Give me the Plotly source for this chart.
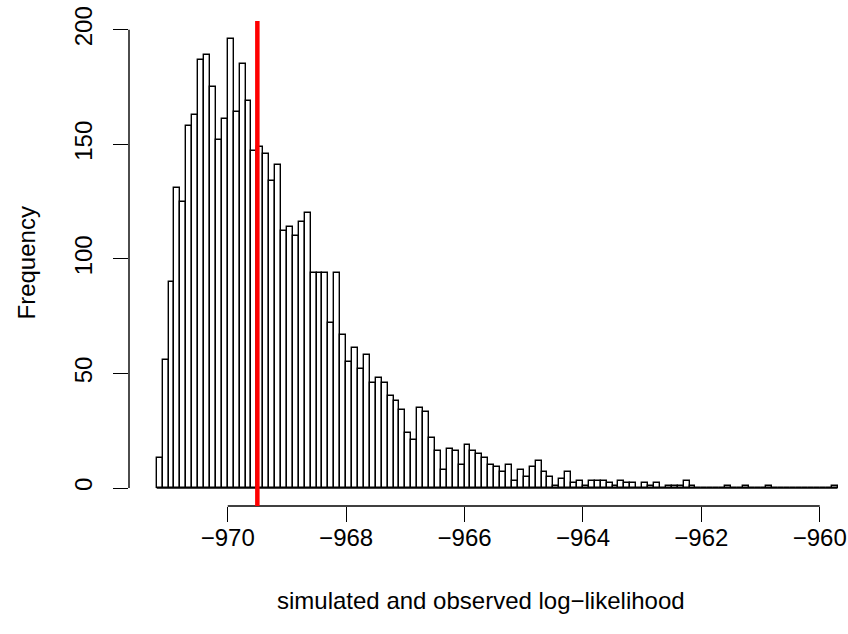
import plotly.graph_objects as go

# ---- data ----
bin_start = -971.2
bin_width = 0.1
counts = [13, 56, 90, 131, 125, 158, 163, 187, 189, 175,
          152, 161, 196, 164, 185, 169, 147, 149, 146, 134,
          141, 112, 114, 110, 116, 120, 94, 94, 94, 72,
          94, 67, 55, 61, 52, 58, 46, 48, 46, 40,
          38, 34, 24, 21, 35, 33, 22, 16, 8, 17,
          16, 10, 19, 16, 15, 13, 10, 9, 7, 10,
          3, 8, 5, 9, 12, 7, 5, 1, 4, 7,
          2, 3, 1, 3, 3, 3, 2, 1, 3, 2,
          2, 0, 2, 1, 2, 0, 1, 1, 1, 3,
          1, 0, 0, 0, 0, 0, 1, 0, 0, 1,
          0, 0, 0, 1, 0, 0, 0, 0, 0, 0,
          0, 0, 0, 0, 1]
observed = -969.5
x_ticks = [-970, -968, -966, -964, -962, -960]
x_tick_labels = ["\u2212970", "\u2212968", "\u2212966", "\u2212964", "\u2212962", "\u2212960"]
y_ticks = [0, 50, 100, 150, 200]
y_tick_labels = ["0", "50", "100", "150", "200"]
x_title = "simulated and observed log\u2212likelihood"
y_title = "Frequency"

centers = [bin_start + bin_width * (i + 0.5) for i in range(len(counts))]
bin_end = bin_start + bin_width * len(counts)

FONT = "Liberation Sans, Arial, Helvetica, sans-serif"
FS = 24

fig = go.Figure()
fig.add_trace(go.Bar(
    x=centers, y=counts, width=bin_width,
    marker=dict(color="white", line=dict(color="black", width=1.4)),
    hoverinfo="x+y", showlegend=False,
))

shapes = [
    dict(type="line", xref="x", yref="y", x0=bin_start, x1=bin_end, y0=0, y1=0,
         line=dict(color="black", width=1.4)),
    dict(type="line", xref="x", yref="paper", x0=x_ticks[0], x1=x_ticks[-1], y0=0, y1=0,
         line=dict(color="black", width=1.4)),
    dict(type="line", xref="paper", yref="y", x0=0, x1=0, y0=y_ticks[0], y1=y_ticks[-1],
         line=dict(color="black", width=1.4)),
    dict(type="line", xref="x", yref="paper", x0=observed, x1=observed, y0=0, y1=1,
         line=dict(color="#FF0000", width=4.5)),
]

fig.update_layout(
    width=848, height=634,
    margin=dict(l=129, r=0, t=21, b=128),
    paper_bgcolor="white", plot_bgcolor="white",
    font=dict(family=FONT, size=FS, color="black"),
    bargap=0,
    shapes=shapes,
    xaxis=dict(range=[-971.668, -959.523], tickvals=x_ticks, ticktext=x_tick_labels,
               ticks="outside", ticklen=15, tickwidth=1.4, tickcolor="black",
               showgrid=False, zeroline=False, showline=False,
               ticklabelstandoff=-5),
    yaxis=dict(range=[-7.84, 203.84], tickvals=y_ticks, ticktext=y_tick_labels,
               ticks="outside", ticklen=15, tickwidth=1.4, tickcolor="black",
               tickangle=-90,
               showgrid=False, zeroline=False, showline=False,
               ticklabelstandoff=11),
    annotations=[
        dict(text=x_title, xref="paper", yref="paper", x=0.49, y=0, yshift=-94,
             showarrow=False, xanchor="center", yanchor="middle",
             font=dict(family=FONT, size=FS, color="black")),
        dict(text=y_title, xref="paper", yref="paper", x=0, xshift=-103, y=0.5,
             showarrow=False, xanchor="center", yanchor="middle", textangle=-90,
             font=dict(family=FONT, size=FS, color="black")),
    ],
)

fig.write_html("out.html")
